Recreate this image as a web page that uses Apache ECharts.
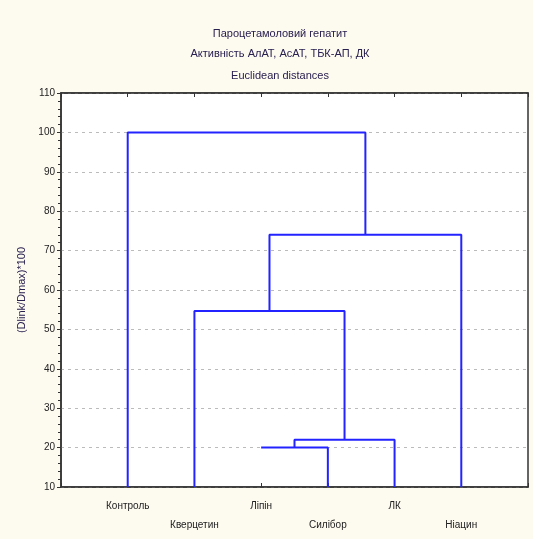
<!DOCTYPE html>
<html>
<head>
<meta charset="utf-8">
<script src="https://cdn.jsdelivr.net/npm/echarts@6/dist/echarts.min.js"></script>
<style>
html,body{margin:0;padding:0;background:#fdfaf0;}
#c{width:533px;height:539px;}
</style>
</head>
<body>
<div id="c"></div>
<script>
// ---- data ----
const titleLines = ['Пароцетамоловий гепатит', 'Активність АлАТ, АсАТ, ТБК-АП, ДК', 'Euclidean distances'];
const yAxisName = '(Dlink/Dmax)*100';
const leafNames = ['Контроль', 'Кверцетин', 'Ліпін', 'Силібор', 'ЛК', 'Ніацин'];
// merges: [leftNode, rightNode, linkDistance]; nodes 0..5 are leaves, 6.. are merged clusters
const mergeLeft = [2, 6, 1, 8, 0];
const mergeRight = [3, 4, 7, 5, 9];
const mergeHeight = [20, 22, 54.7, 74, 100];
const stemlessLeaves = [2];
const yTicks = [10, 20, 30, 40, 50, 60, 70, 80, 90, 100, 110];

// ---- build dendrogram from data ----
const n = leafNames.length;
const nodeX = [], nodeY = [];
for (let i = 0; i < n; i++) { nodeX.push(i + 1); nodeY.push(yTicks[0]); }
const series = [];
for (let k = 0; k < mergeHeight.length; k++) {
  const a = mergeLeft[k], b = mergeRight[k], h = mergeHeight[k];
  const pts = [];
  if (!(a < n && stemlessLeaves.includes(a))) pts.push([nodeX[a], nodeY[a]]);
  pts.push([nodeX[a], h]);
  pts.push([nodeX[b], h]);
  if (!(b < n && stemlessLeaves.includes(b))) pts.push([nodeX[b], nodeY[b]]);
  nodeX.push((nodeX[a] + nodeX[b]) / 2);
  nodeY.push(h);
  series.push({
    type: 'line', data: pts, symbol: 'none', silent: true,
    lineStyle: { color: '#2323ff', width: 2 }, animation: false, z: 5
  });
}

const chart = echarts.init(document.getElementById('c'), null, { renderer: 'canvas' });
const lblFont = { fontFamily: 'Liberation Sans, Arial, sans-serif', fontSize: 10, color: '#222' };
chart.setOption({
  backgroundColor: '#fdfaf0',
  animation: false,
  title: titleLines.map((t, i) => ({
    text: t, left: 275, top: 23 + i * 20 + (i === 2 ? 2 : 0), textAlign: 'center',
    textStyle: { fontFamily: 'Liberation Sans, Arial, sans-serif', fontSize: 11, fontWeight: 'normal', color: '#2a2050' }
  })),
  grid: { left: 61, right: 5, top: 93, bottom: 52, show: true, backgroundColor: '#ffffff', borderColor: '#333', borderWidth: 1.5 },
  xAxis: [{
    type: 'value', min: 0, max: n + 1, interval: 1, position: 'bottom',
    axisLine: { show: true, onZero: false, lineStyle: { color: '#333', width: 1.5 } },
    axisTick: { show: true, inside: true, length: 4, lineStyle: { color: '#333' } },
    splitLine: { show: false },
    axisLabel: Object.assign({
      margin: 10, lineHeight: 19, showMinLabel: true, showMaxLabel: true,
      formatter: v => {
        const i = Math.round(v) - 1;
        if (i < 0 || i >= n) return '';
        return (i % 2 === 1 ? '\n' : '') + leafNames[i];
      }
    }, lblFont)
  }, {
    type: 'value', min: 0, max: n + 1, interval: 1, position: 'top',
    axisLine: { show: true, onZero: false, lineStyle: { color: '#333', width: 1.5 } },
    axisTick: { show: true, inside: true, length: 4, lineStyle: { color: '#333' } },
    axisLabel: { show: false }, splitLine: { show: false }
  }],
  yAxis: {
    type: 'value', min: yTicks[0], max: yTicks[yTicks.length - 1], interval: 10,
    name: yAxisName, nameLocation: 'middle', nameGap: 33, nameRotate: 90,
    nameTextStyle: { fontFamily: 'Liberation Sans, Arial, sans-serif', fontSize: 11, color: '#2a2050' },
    axisLine: { show: true, lineStyle: { color: '#333', width: 1.5 } },
    axisTick: { show: true, inside: false, length: 4, lineStyle: { color: '#333' } },
    minorTick: { show: true, splitNumber: 5, length: 3, lineStyle: { color: '#333' } },
    splitLine: { show: true, lineStyle: { color: '#bbbbbb', type: [3, 4], width: 1 } },
    axisLabel: Object.assign({ margin: 6 }, lblFont)
  },
  series: series
});
</script>
</body>
</html>
